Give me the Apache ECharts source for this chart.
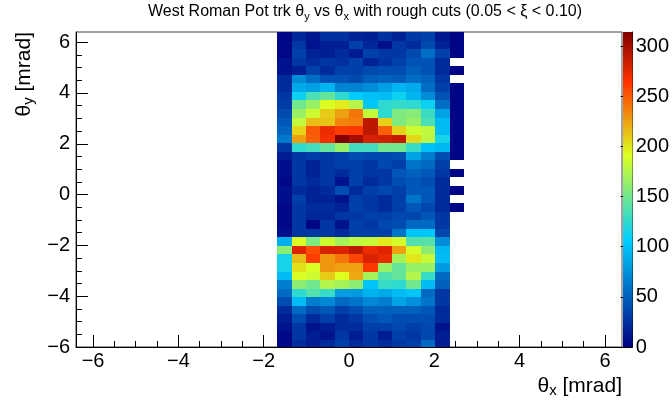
<!DOCTYPE html>
<html>
<head>
<meta charset="utf-8">
<script src="https://cdn.jsdelivr.net/npm/echarts@6/dist/echarts.min.js"></script>
<style>
  html, body { margin: 0; padding: 0; background: #fff; }
  #chart { width: 672px; height: 401px; }
</style>
</head>
<body>
<div id="chart"></div>
<script>
// Histogram binning: 38 x 38 bins over [-6.4, 6.4] mrad on both axes
const NBINS = 38, LO = -6.4, HI = 6.4;
const firstXBin = 14;   // theta_x bin of the first column below
const topYBin = 37;     // theta_y bin of the first row below

const xTicks = [-6, -4, -2, 0, 2, 4, 6];
const yTicks = [-6, -4, -2, 0, 2, 4, 6];
const zTicks = [0, 50, 100, 150, 200, 250, 300];
const zMax = 314;

// Track counts, one row per theta_y bin (top to bottom), 13 theta_x bins per row
const counts = [
  [3, 20, 12, 25, 25, 18, 16, 25, 18, 30, 33, 12, 2],
  [4, 28, 10, 16, 16, 33, 20, 8, 28, 22, 38, 18, 2],
  [3, 33, 18, 16, 22, 14, 33, 28, 28, 38, 57, 33, 2],
  [10, 28, 22, 28, 24, 33, 18, 26, 33, 43, 43, 22, 0],
  [10, 16, 33, 22, 33, 33, 38, 40, 40, 48, 43, 22, 2],
  [22, 72, 57, 43, 43, 38, 48, 52, 48, 57, 52, 28, 0],
  [22, 88, 83, 93, 68, 68, 72, 83, 93, 88, 57, 33, 2],
  [28, 112, 135, 145, 125, 105, 100, 97, 112, 93, 72, 43, 2],
  [31, 150, 165, 190, 198, 175, 103, 125, 127, 125, 112, 57, 2],
  [38, 165, 185, 210, 225, 240, 182, 125, 155, 158, 130, 85, 2],
  [45, 180, 215, 212, 235, 238, 290, 208, 155, 165, 135, 97, 2],
  [52, 207, 250, 272, 260, 262, 290, 248, 208, 185, 180, 97, 2],
  [62, 225, 248, 268, 314, 300, 280, 283, 288, 205, 178, 115, 2],
  [28, 125, 132, 145, 165, 132, 132, 150, 150, 128, 100, 95, 2],
  [15, 28, 32, 28, 32, 40, 37, 37, 40, 85, 65, 40, 2],
  [8, 28, 18, 28, 32, 32, 28, 37, 32, 60, 55, 32, 0],
  [8, 28, 18, 28, 22, 32, 28, 28, 45, 50, 45, 28, 2],
  [4, 28, 22, 28, 10, 32, 22, 28, 40, 45, 40, 22, 0],
  [8, 22, 18, 22, 40, 22, 32, 37, 32, 45, 45, 22, 2],
  [8, 32, 18, 18, 10, 32, 28, 22, 32, 60, 45, 22, 0],
  [4, 28, 22, 22, 18, 32, 28, 22, 32, 45, 37, 22, 2],
  [4, 28, 20, 20, 28, 28, 32, 32, 37, 37, 45, 28, 0],
  [4, 28, 3, 28, 10, 32, 28, 37, 40, 55, 55, 28, 0],
  [8, 28, 28, 28, 22, 32, 32, 32, 60, 103, 103, 37, 0],
  [90, 190, 155, 185, 170, 180, 183, 198, 188, 138, 140, 72, 0],
  [160, 278, 255, 280, 279, 290, 272, 277, 225, 188, 160, 95, 0],
  [115, 215, 260, 228, 240, 258, 279, 272, 170, 200, 183, 97, 0],
  [115, 203, 190, 228, 225, 225, 262, 165, 145, 165, 165, 80, 0],
  [97, 190, 185, 210, 192, 222, 170, 138, 145, 175, 128, 55, 0],
  [65, 160, 150, 175, 170, 160, 102, 128, 125, 150, 97, 50, 0],
  [55, 125, 138, 128, 80, 80, 92, 88, 97, 102, 55, 28, 0],
  [40, 97, 65, 70, 55, 60, 70, 65, 85, 75, 60, 28, 0],
  [22, 55, 40, 45, 32, 40, 50, 50, 50, 50, 45, 22, 0],
  [15, 40, 22, 32, 22, 28, 40, 45, 40, 40, 40, 22, 0],
  [10, 28, 10, 15, 22, 22, 32, 32, 37, 32, 37, 10, 0],
  [4, 28, 15, 10, 28, 15, 28, 15, 32, 28, 37, 15, 0],
  [4, 22, 15, 22, 32, 22, 28, 22, 28, 32, 55, 15, 0]
];

// Rainbow palette gradient table (stops and RGB fractions)
const palStops = [0.00, 0.34, 0.61, 0.84, 1.00];
const palR = [0.00, 0.00, 0.87, 1.00, 0.51];
const palG = [0.00, 0.81, 1.00, 0.20, 0.00];
const palB = [0.51, 1.00, 0.12, 0.00, 0.00];

function palColor(f) {
  let i = 1;
  while (i < palStops.length - 1 && f > palStops[i]) i++;
  const t = (f - palStops[i - 1]) / (palStops[i] - palStops[i - 1]);
  const c = (a) => Math.round(255 * (a[i - 1] + t * (a[i] - a[i - 1])));
  return 'rgb(' + c(palR) + ',' + c(palG) + ',' + c(palB) + ')';
}
const paletteColors = [];
for (let i = 0; i <= 100; i++) paletteColors.push(palColor(i / 100));
const gradientStops = palStops.map((s, i) => ({
  offset: s,
  color: 'rgb(' + Math.round(255 * palR[i]) + ',' + Math.round(255 * palG[i]) + ',' + Math.round(255 * palB[i]) + ')'
}));

const binW = (HI - LO) / NBINS;
const cells = [];
counts.forEach((row, k) => {
  const yb = topYBin - k;
  row.forEach((v, c) => {
    if (v <= 0) return;
    const xb = firstXBin + c;
    cells.push([LO + xb * binW, LO + (xb + 1) * binW, LO + yb * binW, LO + (yb + 1) * binW, v]);
  });
});

const FONT = '"Liberation Sans", Arial, Helvetica, sans-serif';
const minus = (v) => String(v).replace('-', '\u2212');

function minorList(lo, hi, step, majors) {
  const out = [];
  for (let v = Math.ceil(lo / step) * step; v <= hi + 1e-9; v += step) {
    const r = Math.round(v * 100) / 100;
    if (majors.indexOf(r) < 0) out.push(r);
  }
  return out;
}

const chart = echarts.init(document.getElementById('chart'), null, { renderer: 'canvas' });

const labelStyle = { color: '#000', fontSize: 20, fontFamily: FONT };

chart.setOption({
  animation: false,
  backgroundColor: '#fff',
  grid: [
    { left: 76, right: 50, top: 32, bottom: 54, show: true, borderColor: '#444', borderWidth: 1, backgroundColor: 'transparent' },
    { left: 623, width: 13, top: 32, bottom: 54 }
  ],
  xAxis: [
    {
      type: 'value', gridIndex: 0, min: LO, max: HI, position: 'bottom',
      axisLine: { show: true, onZero: false, lineStyle: { color: '#000', width: 1 } },
      axisTick: { show: true, inside: true, length: 12, customValues: xTicks, lineStyle: { color: '#000' } },
      axisLabel: Object.assign({ customValues: xTicks, margin: 4, formatter: minus }, labelStyle),
      splitLine: { show: false }
    },
    {
      type: 'value', gridIndex: 0, min: LO, max: HI, position: 'bottom',
      axisLine: { show: false, onZero: false },
      axisTick: { show: true, inside: true, length: 6, customValues: minorList(LO, HI, 0.5, xTicks), lineStyle: { color: '#000' } },
      axisLabel: { show: false },
      splitLine: { show: false }
    },
    {
      type: 'value', gridIndex: 1, min: 0, max: 1, show: false
    }
  ],
  yAxis: [
    {
      type: 'value', gridIndex: 0, min: -6, max: HI, position: 'left',
      axisLine: { show: true, onZero: false, lineStyle: { color: '#000', width: 1 } },
      axisTick: { show: true, inside: true, length: 12, customValues: yTicks, lineStyle: { color: '#000' } },
      axisLabel: Object.assign({ customValues: yTicks, margin: 6, formatter: minus }, labelStyle),
      splitLine: { show: false }
    },
    {
      type: 'value', gridIndex: 0, min: -6, max: HI, position: 'left',
      axisLine: { show: false, onZero: false },
      axisTick: { show: true, inside: true, length: 6, customValues: minorList(-6, HI, 0.5, yTicks), lineStyle: { color: '#000' } },
      axisLabel: { show: false },
      splitLine: { show: false }
    },
    {
      type: 'value', gridIndex: 1, min: 0, max: zMax, position: 'right',
      axisLine: { show: true, onZero: false, lineStyle: { color: '#000', width: 1 } },
      axisTick: { show: true, inside: true, length: 12, customValues: zTicks, lineStyle: { color: '#000' } },
      axisLabel: Object.assign({ customValues: zTicks, margin: 3 }, labelStyle),
      splitLine: { show: false }
    }
  ],
  visualMap: {
    type: 'continuous', show: false, min: 0, max: zMax, dimension: 4, seriesIndex: 0,
    inRange: { color: paletteColors }
  },
  series: [
    {
      type: 'custom', xAxisIndex: 0, yAxisIndex: 0, clip: true, z: 1,
      encode: { x: [0, 1], y: [2, 3] },
      data: cells,
      renderItem: function (params, api) {
        const a = api.coord([api.value(0), api.value(3)]);
        const b = api.coord([api.value(1), api.value(2)]);
        const x0 = Math.round(a[0]), y0 = Math.round(a[1]);
        const x1 = Math.round(b[0]), y1 = Math.round(b[1]);
        return {
          type: 'rect',
          shape: { x: x0, y: y0, width: x1 - x0, height: y1 - y0 },
          style: { fill: api.visual('color') }
        };
      }
    },
    {
      type: 'custom', xAxisIndex: 2, yAxisIndex: 2, clip: false, silent: true,
      encode: { x: [0, 1], y: [2, 3] },
      data: [[0, 1, 0, zMax]],
      renderItem: function (params, api) {
        const a = api.coord([api.value(0), api.value(3)]);
        const b = api.coord([api.value(1), api.value(2)]);
        return {
          type: 'rect',
          shape: { x: a[0], y: a[1], width: b[0] - a[0], height: b[1] - a[1] },
          style: { fill: new echarts.graphic.LinearGradient(0, 1, 0, 0, gradientStops) }
        };
      }
    }
  ],
  graphic: [
    {
      type: 'text', x: 365, y: 12,
      style: {
        text: '{n|West Roman Pot trk θ}{s|y}{n| vs θ}{s|x}{n| with rough cuts (0.05 < ξ < 0.10)}',
        align: 'center', verticalAlign: 'middle',
        rich: {
          n: { fontSize: 16, fontFamily: FONT, fill: '#000', lineHeight: 20 },
          s: { fontSize: 11, fontFamily: FONT, fill: '#000', lineHeight: 11, verticalAlign: 'bottom' }
        }
      }
    },
    {
      type: 'text', x: 622, y: 386,
      style: {
        text: '{n|θ}{s|x}{n| [mrad]}', align: 'right', verticalAlign: 'middle',
        rich: {
          n: { fontSize: 21, fontFamily: FONT, fill: '#000', lineHeight: 24 },
          s: { fontSize: 15, fontFamily: FONT, fill: '#000', lineHeight: 12, verticalAlign: 'bottom' }
        }
      }
    },
    {
      type: 'text', x: 24, y: 32, rotation: Math.PI / 2,
      style: {
        text: '{n|θ}{s|y}{n| [mrad]}', align: 'right', verticalAlign: 'middle',
        rich: {
          n: { fontSize: 21, fontFamily: FONT, fill: '#000', lineHeight: 24 },
          s: { fontSize: 15, fontFamily: FONT, fill: '#000', lineHeight: 12, verticalAlign: 'bottom' }
        }
      }
    }
  ]
});
</script>
</body>
</html>
